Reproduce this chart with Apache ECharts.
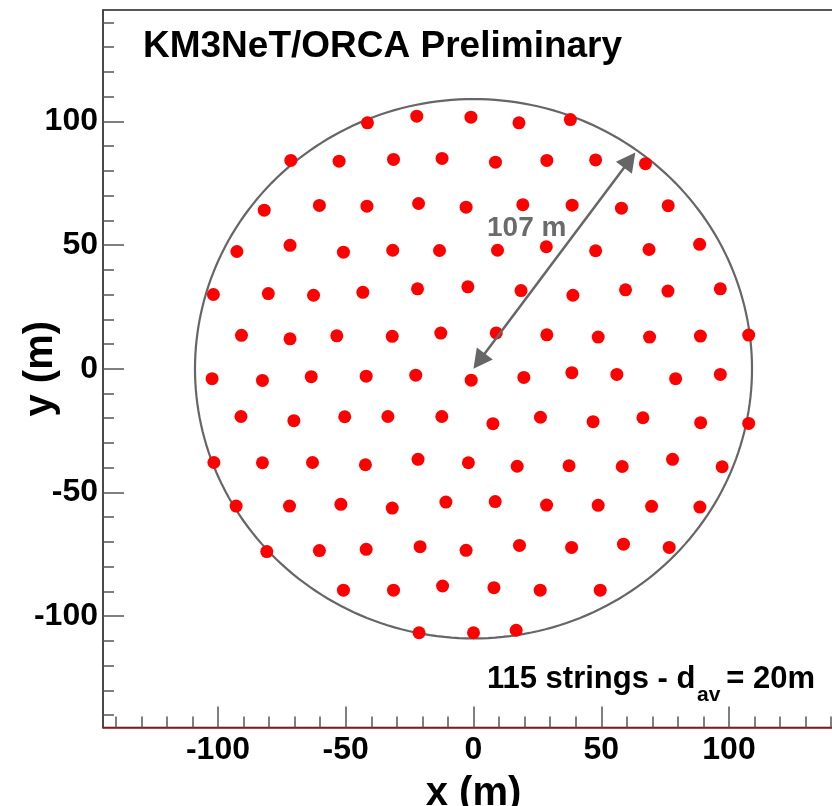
<!DOCTYPE html>
<html>
<head>
<meta charset="utf-8">
<title>KM3NeT/ORCA footprint</title>
<script src="https://cdn.jsdelivr.net/npm/echarts@6/dist/echarts.min.js"></script>
<style>
  html, body { margin: 0; padding: 0; background: #fff; }
  #main { width: 832px; height: 806px; }
</style>
</head>
<body>
<div id="main"></div>
<script>
// string positions in metres, read row by row from the top of the footprint
var stringX = [
  -41.5, -22.2, -1.0, 17.8, 37.9,
  -71.5, -52.6, -31.3, -12.3, 8.6, 28.7, 47.8, 67.3,
  -81.9, -60.3, -41.7, -21.5, -2.9, 19.3, 38.6, 57.9, 76.2,
  -92.6, -71.8, -50.9, -31.6, -13.3, 9.4, 28.5, 47.8, 68.7, 88.5,
  -101.8, -80.3, -62.6, -43.3, -21.9, -2.2, 18.6, 38.9, 59.5, 76.1, 96.6,
  -90.8, -71.8, -53.5, -31.8, -12.8, 8.9, 28.7, 48.8, 68.9, 88.8, 107.7,
  -102.3, -82.6, -63.5, -42.0, -22.6, -0.9, 19.7, 38.5, 56.1, 79.1, 96.6,
  -91.0, -70.3, -50.4, -33.5, -12.4, 7.6, 26.2, 46.8, 66.3, 88.9, 107.7,
  -101.6, -82.6, -63.0, -42.3, -21.7, -2.0, 17.1, 37.4, 58.2, 77.9, 97.3,
  -92.9, -72.0, -51.9, -31.8, -10.8, 8.5, 28.6, 48.8, 69.7, 88.6,
  -80.9, -60.3, -42.0, -20.9, -2.9, 18.0, 38.4, 58.7, 76.6,
  -50.9, -31.3, -12.1, 8.0, 26.1, 49.6,
  -21.3, 0.0, 16.7
];
var stringY = [
  99.4, 102.1, 101.7, 99.4, 100.7,
  84.2, 83.9, 84.6, 85.0, 83.5, 84.2, 84.4, 82.9,
  64.1, 66.0, 65.7, 66.8, 65.3, 66.3, 66.1, 64.9, 65.9,
  47.4, 49.9, 47.1, 47.9, 47.8, 47.9, 49.3, 47.7, 48.2, 50.3,
  30.0, 30.4, 29.7, 30.9, 32.3, 33.1, 31.6, 29.7, 31.9, 31.4, 32.3,
  13.5, 12.1, 13.3, 13.1, 14.4, 14.5, 13.7, 12.8, 12.8, 13.2, 13.6,
  -4.0, -4.7, -3.2, -3.0, -2.6, -4.6, -3.5, -1.6, -2.3, -4.0, -2.3,
  -19.3, -21.0, -19.4, -19.3, -19.3, -22.2, -19.6, -21.4, -19.8, -21.8, -22.1,
  -37.9, -38.0, -37.9, -38.8, -36.6, -38.0, -39.4, -39.2, -39.5, -36.6, -39.6,
  -55.5, -55.5, -54.8, -56.3, -53.9, -53.7, -55.1, -55.2, -55.6, -55.9,
  -73.9, -73.5, -73.0, -71.9, -73.4, -71.4, -72.2, -70.9, -72.2,
  -89.5, -89.5, -87.8, -88.5, -89.5, -89.5,
  -106.7, -106.7, -105.7
];

var majorTicks = [-100, -50, 0, 50, 100];
var minorTicks = [-140, -130, -120, -110, -90, -80, -70, -60, -40, -30, -20, -10,
  10, 20, 30, 40, 60, 70, 80, 90, 110, 120, 130, 140];

var footprintRadius = 109;          // outer circle (m)
var arrowFrom = [2.2, 3.1];         // radius arrow, line ends (heads stick out past these)
var arrowTo = [61.1, 84.3];

var FONT = '"Liberation Sans", Arial, Helvetica, sans-serif';

var points = stringX.map(function (x, i) { return [x, stringY[i]]; });

var chart = echarts.init(document.getElementById('main'), null, { renderer: 'canvas' });

function majorAxis(pos) {
  return {
    type: 'value',
    position: pos,
    min: -145,
    max: 145,
    axisLine: { show: true, onZero: false, lineStyle: { color: pos === 'bottom' ? '#a31a1a' : '#444', width: 1.5 } },
    axisTick: { show: true, inside: true, length: 21, customValues: majorTicks, lineStyle: { color: '#555', width: 1.5 } },
    axisLabel: {
      show: true, customValues: majorTicks, margin: pos === 'bottom' ? 7 : 5,
      color: '#000', fontSize: 32, fontWeight: 'bold', fontFamily: FONT
    },
    splitLine: { show: false },
    minorTick: { show: false }
  };
}

function minorAxis(pos) {
  return {
    type: 'value',
    position: pos,
    min: -145,
    max: 145,
    axisLine: { show: false, onZero: false },
    axisTick: { show: true, inside: true, length: 11, customValues: minorTicks, lineStyle: { color: '#555', width: 1.5 } },
    axisLabel: { show: false },
    splitLine: { show: false }
  };
}

var xMain = majorAxis('bottom');
xMain.name = 'x (m)';
xMain.nameLocation = 'middle';
xMain.nameGap = 46;
xMain.nameMoveOverlap = false;
xMain.nameTextStyle = { color: '#000', fontSize: 40, fontWeight: 'bold', fontFamily: FONT };

var yMain = majorAxis('left');
yMain.name = 'y (m)';
yMain.nameLocation = 'middle';
yMain.nameGap = 42;
yMain.nameMoveOverlap = false;
yMain.nameTextStyle = { color: '#000', fontSize: 40, fontWeight: 'bold', fontFamily: FONT };

var option = {
  backgroundColor: '#fff',
  animation: false,
  grid: {
    left: 103, top: 10, width: 741, height: 717.5,
    show: true, borderColor: '#222', borderWidth: 1.5,
    containLabel: false, outerBoundsMode: 'none'
  },
  xAxis: [xMain, minorAxis('bottom')],
  yAxis: [yMain, minorAxis('left')],
  graphic: [
    {
      type: 'text', left: 143, top: 28, silent: true,
      style: { text: 'KM3NeT/ORCA Preliminary', fill: '#000', font: 'bold 37px ' + FONT }
    },
    {
      type: 'text', left: 487, top: 214, silent: true,
      style: { text: '107 m', fill: '#6b6b6b', font: 'bold 28px ' + FONT }
    },
    {
      type: 'text', left: 487, top: 664, silent: true,
      style: { text: '115 strings - d', fill: '#000', font: 'bold 31px ' + FONT }
    },
    {
      type: 'text', left: 697, top: 685, silent: true,
      style: { text: 'av', fill: '#000', font: 'bold 21px ' + FONT }
    },
    {
      type: 'text', right: 17, top: 664, silent: true,
      style: { text: '= 20m', fill: '#000', font: 'bold 31px ' + FONT }
    }
  ],
  series: [
    {
      name: 'footprint',
      type: 'custom',
      silent: true,
      data: [[0, 0]],
      renderItem: function (params, api) {
        var pts = [];
        for (var i = 0; i < 240; i++) {
          var a = i / 240 * Math.PI * 2;
          pts.push(api.coord([footprintRadius * Math.cos(a), footprintRadius * Math.sin(a)]));
        }
        return {
          type: 'polygon',
          shape: { points: pts },
          style: { fill: null, stroke: '#666', lineWidth: 2.2 }
        };
      },
      markLine: {
        silent: true,
        symbol: ['triangle', 'triangle'],
        symbolSize: [20, 19],
        label: { show: false },
        lineStyle: { color: '#666', width: 2.5, type: 'solid' },
        data: [[{ coord: arrowFrom }, { coord: arrowTo }]]
      }
    },
    {
      name: 'strings',
      type: 'scatter',
      symbol: 'circle',
      symbolSize: 13,
      itemStyle: { color: '#ff0000', opacity: 1 },
      data: points,
      z: 3
    }
  ]
};

chart.setOption(option);
</script>
</body>
</html>
